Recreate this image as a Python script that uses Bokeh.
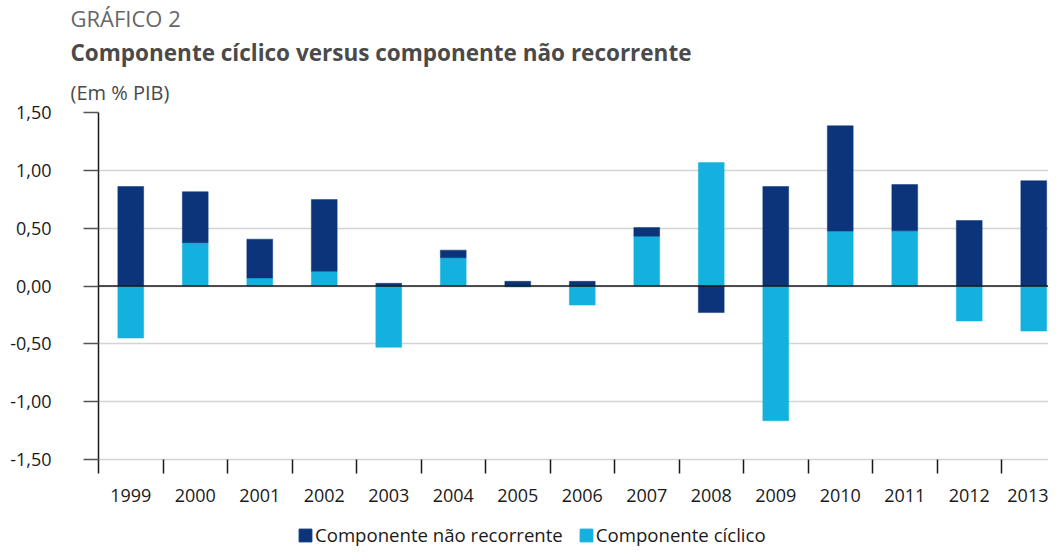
from bokeh.plotting import figure
from bokeh.layouts import column
from bokeh.models import (Range1d, FixedTicker, Span, Title, Legend, LegendItem,
                          ColumnDataSource, LinearAxis, Grid)
from bokeh.embed import file_html
from bokeh.resources import INLINE

# ---- data ----
years = ["1999", "2000", "2001", "2002", "2003", "2004", "2005", "2006",
         "2007", "2008", "2009", "2010", "2011", "2012", "2013"]
nao_recorrente = [0.86, 0.44, 0.335, 0.62, 0.023, 0.065, 0.04, 0.04,
                  0.075, -0.23, 0.86, 0.91, 0.40, 0.566, 0.91]
ciclico = [-0.45, 0.375, 0.07, 0.127, -0.53, 0.245, -0.008, -0.165,
           0.43, 1.067, -1.165, 0.475, 0.477, -0.303, -0.39]
y_ticks = [-1.5, -1.0, -0.5, 0.0, 0.5, 1.0, 1.5]
y_tick_labels = ["-1,50", "-1,00", "-0,50", "0,00", "0,50", "1,00", "1,50"]
series_names = ["Componente não recorrente", "Componente cíclico"]

DARK = "#0b347a"
CYAN = "#14b0de"
FONT = "Open Sans"

# ---- stacking (cyclic closest to zero, non-recurrent stacked on same sign) ----
xc = [i + 0.5 for i in range(len(years))]
cyc_bottom = [0.0] * len(years)
cyc_top = list(ciclico)
nr_bottom, nr_top = [], []
for c, n in zip(ciclico, nao_recorrente):
    if (c >= 0) == (n >= 0):
        nr_bottom.append(c)
        nr_top.append(c + n)
    else:
        nr_bottom.append(0.0)
        nr_top.append(n)

src_c = ColumnDataSource(dict(x=xc, bottom=cyc_bottom, top=cyc_top))
src_n = ColumnDataSource(dict(x=xc, bottom=nr_bottom, top=nr_top))

W = 1048
LH = 40               # legend strip height
H = 547 - LH          # chart height
left, top_b = 98, 112
bottom_b = H - 459
px_per_cat = 64.5
x_end = (W - left) / px_per_cat

p = figure(width=W, height=H, output_backend="svg", toolbar_location=None,
           x_range=Range1d(0, x_end), y_range=Range1d(-1.5, 1.5),
           min_border_left=left, min_border_right=0,
           min_border_top=top_b, min_border_bottom=bottom_b,
           x_axis_type=None, y_axis_type=None)
p.outline_line_color = None

# titles (first added = closest to the plot frame)
p.add_layout(Title(text="(Em % PIB)", align="left", offset=-28, standoff=13,
                   text_font=FONT, text_font_size="20px", text_font_style="normal",
                   text_color="#4a4a4a"), "above")
p.add_layout(Title(text="Componente cíclico versus componente não recorrente",
                   align="left", offset=-28, standoff=5,
                   text_font=FONT, text_font_size="22.5px", text_font_style="bold",
                   text_color="#4a4a4a"), "above")
p.add_layout(Title(text="GRÁFICO 2", align="left", offset=-28, standoff=0,
                   text_font=FONT, text_font_size="22px", text_font_style="normal",
                   text_color="#666666"), "above")

yax = LinearAxis(ticker=FixedTicker(ticks=y_ticks, minor_ticks=[]))
yax.major_label_overrides = {tk: lb for tk, lb in zip(y_ticks, y_tick_labels)}
yax.axis_line_color = "#1a1a1a"
yax.axis_line_width = 1.5
yax.major_tick_line_color = "#555555"
yax.major_tick_line_width = 1.5
yax.major_tick_out = 15
yax.major_tick_in = 0
yax.minor_tick_line_color = None
yax.major_label_standoff = 32
yax.major_label_text_font = FONT
yax.major_label_text_font_size = "18px"
yax.major_label_text_color = "#1a1a1a"
p.add_layout(yax, "left")

xax = LinearAxis(ticker=FixedTicker(ticks=xc,
                                    minor_ticks=list(range(len(years) + 1))))
xax.major_label_overrides = {x: y for x, y in zip(xc, years)}
xax.axis_line_color = "#d4d4d4"
xax.axis_line_width = 1.5
xax.major_tick_line_color = None
xax.major_tick_out = 0
xax.major_tick_in = 0
xax.minor_tick_line_color = "#1a1a1a"
xax.minor_tick_line_width = 1.5
xax.minor_tick_out = 14
xax.minor_tick_in = 0
xax.major_label_standoff = 15
xax.major_label_text_font = FONT
xax.major_label_text_font_size = "18px"
xax.major_label_text_color = "#1a1a1a"
p.add_layout(xax, "below")

p.grid.visible = False
p.add_layout(Grid(dimension=1, ticker=yax.ticker, grid_line_color="#d4d4d4",
                  grid_line_width=1.5))

r_c = p.vbar(x="x", bottom="bottom", top="top", width=0.40, source=src_c,
             fill_color=CYAN, line_color=CYAN, line_width=0.5)
r_n = p.vbar(x="x", bottom="bottom", top="top", width=0.40, source=src_n,
             fill_color=DARK, line_color=DARK, line_width=0.5)

p.add_layout(Span(location=0, dimension="width", line_color="#1a1a1a",
                  line_width=1.5))

# ---------------- legend strip ----------------
lg = figure(width=W, height=LH, output_backend="svg", toolbar_location=None,
            x_range=Range1d(0, 1), y_range=Range1d(0, 1),
            min_border=0, x_axis_type=None, y_axis_type=None)
lg.outline_line_color = None
lg.grid.visible = False
# legend key renderers (one point each, outside the visible range)
k_n = lg.vbar(x=[-5], top=[0], width=0.4, fill_color=DARK, line_color=DARK)
k_c = lg.vbar(x=[-5], top=[0], width=0.4, fill_color=CYAN, line_color=CYAN)
legend = Legend(items=[LegendItem(label=series_names[0], renderers=[k_n]),
                       LegendItem(label=series_names[1], renderers=[k_c])],
                orientation="horizontal", location=(199, 0),
                glyph_width=16, glyph_height=16, label_standoff=2, spacing=15,
                padding=0, margin=0, border_line_color=None,
                background_fill_alpha=0,
                label_text_font=FONT, label_text_font_size="18.6px",
                label_text_color="#1a1a1a")
lg.add_layout(legend, "center")

open("out.html", "w").write(file_html(column(p, lg, spacing=0), INLINE))
